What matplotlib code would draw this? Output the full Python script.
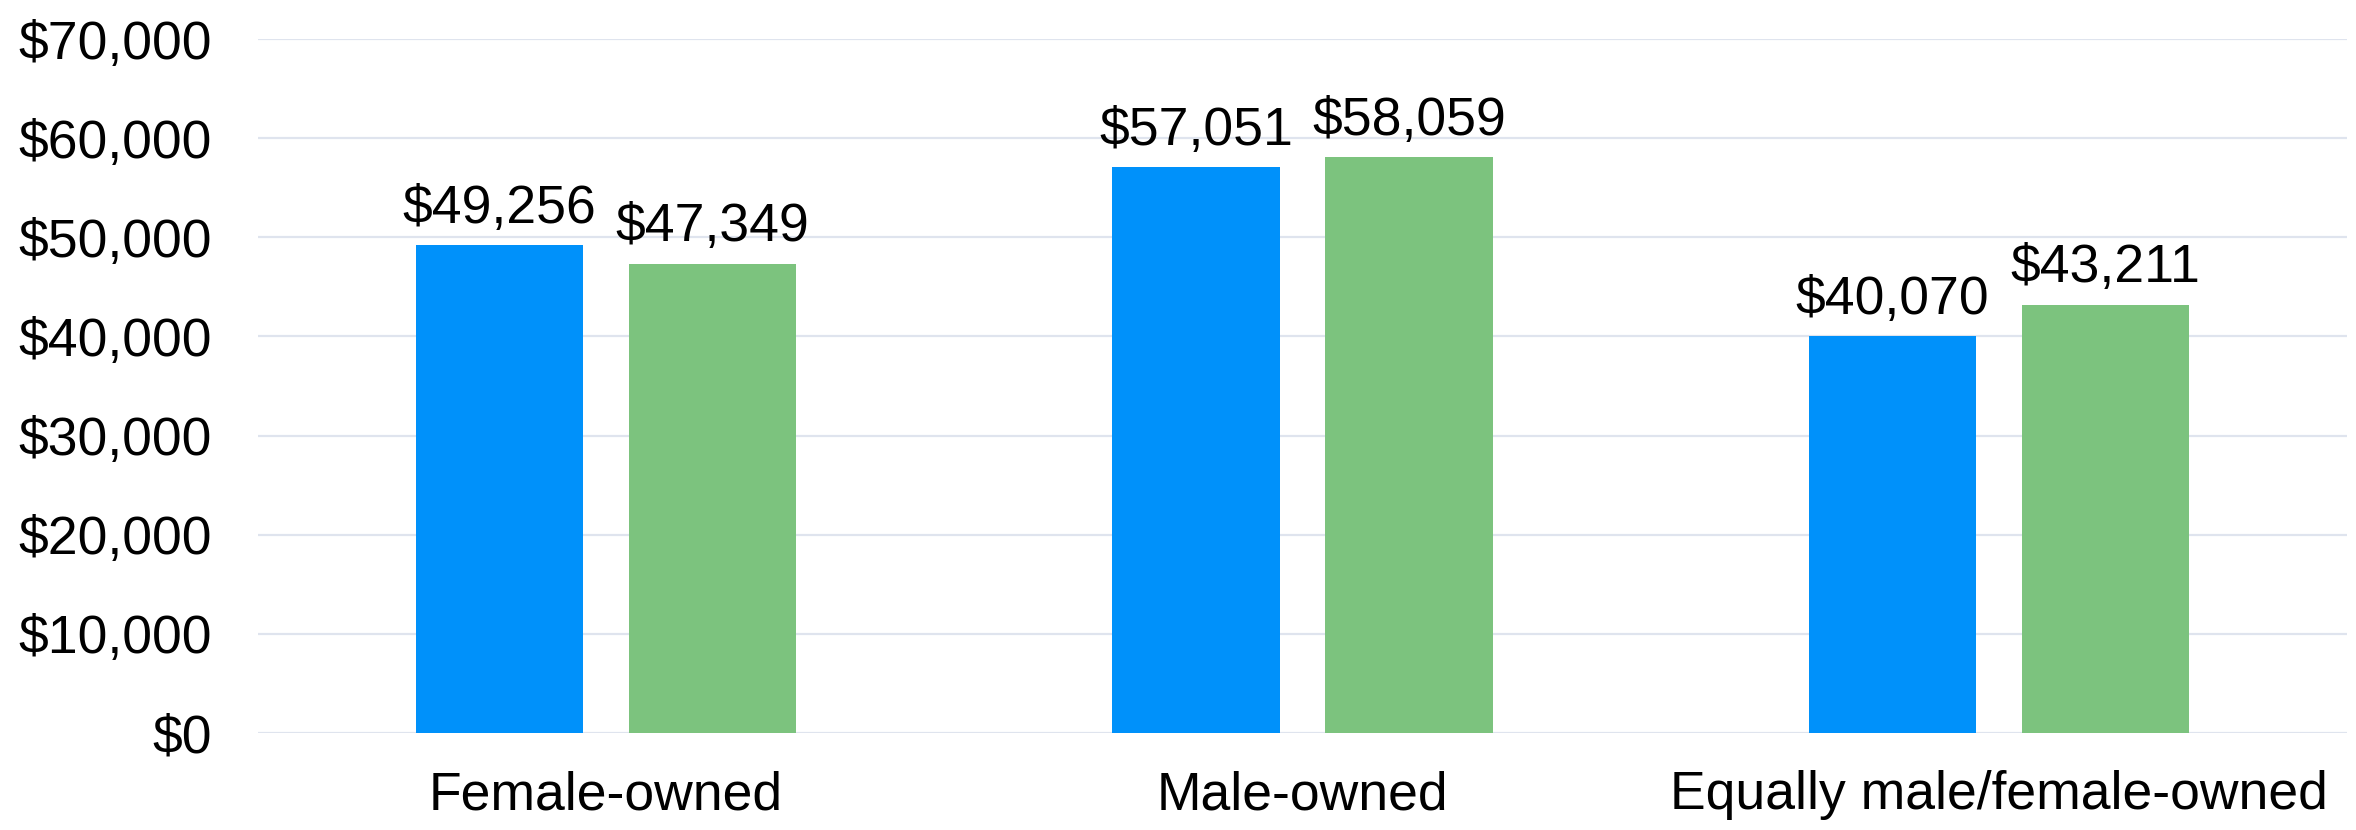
import matplotlib.pyplot as plt
import numpy as np

# Data
categories = ["Female-owned", "Male-owned", "Equally male/female-owned"]
series_a = [49256, 57051, 40070]
series_b = [47349, 58059, 43211]
yticks = [0, 10000, 20000, 30000, 40000, 50000, 60000, 70000]

plt.rcParams['font.family'] = ['Liberation Sans', 'DejaVu Sans']
FS = 38.5

fig = plt.figure(figsize=(23.56, 8.3), dpi=100)
ax = fig.add_axes([0.1095, 0.1169, 0.8867, 0.8361])

x = np.arange(len(categories))
width = 0.24
offset = 0.153

bars_a = ax.bar(x - offset, series_a, width, color="#0091FA", zorder=3)
bars_b = ax.bar(x + offset, series_b, width, color="#7CC37E", zorder=3)

# value labels above the bars
for bars in (bars_a, bars_b):
    for b in bars:
        h = b.get_height()
        ax.annotate(f"${h:,.0f}", (b.get_x() + b.get_width() / 2, h),
                    xytext=(0, 8), textcoords="offset points",
                    ha="center", va="bottom", fontsize=FS)

ax.set_xlim(-0.5, 2.5)
ax.set_ylim(0, 70000)
ax.set_yticks(yticks)
ax.set_yticklabels([f"${v:,.0f}" for v in yticks], fontsize=FS)
ax.set_xticks(x)
ax.set_xticklabels(categories, fontsize=FS)

ax.tick_params(axis="y", length=0, pad=33)
ax.tick_params(axis="x", length=0, pad=27)

for s in ax.spines.values():
    s.set_visible(False)

ax.grid(axis="y", color="#DFE4EE", linewidth=1.6, zorder=0)
ax.set_axisbelow(True)

plt.savefig("out.png", dpi=100)
